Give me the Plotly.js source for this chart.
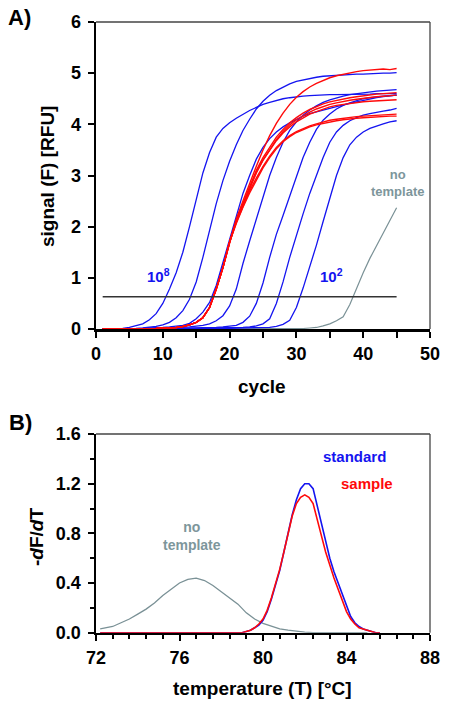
<!DOCTYPE html>
<html>
<head>
<meta charset="utf-8">
<script src="https://cdn.plot.ly/plotly-3.0.1.min.js"></script>
<style>html,body{margin:0;padding:0;background:#fff;}#chart{width:452px;height:704px;}</style>
</head>
<body>
<div id="chart"></div>
<script>
// ---------- Panel A: amplification curves ----------
const cycles = [1,2,3,4,5,6,7,8,9,10,11,12,13,14,15,16,17,18,19,20,21,22,23,24,25,26,27,28,29,30,31,32,33,34,35,36,37,38,39,40,41,42,43,44,45];

// standards (blue), 10^8 ... 10^2
const std1e8 = [0,0,0.01,0.01,0.03,0.06,0.10,0.18,0.30,0.50,0.78,1.10,1.50,2.00,2.55,3.05,3.45,3.75,3.92,4.03,4.12,4.20,4.27,4.33,4.39,4.43,4.47,4.50,4.52,4.54,4.55,4.56,4.57,4.57,4.58,4.58,4.58,4.59,4.59,4.59,4.59,4.60,4.60,4.60,4.60];
const std1e7 = [0,0,0,0.01,0.01,0.01,0.02,0.03,0.05,0.08,0.13,0.22,0.36,0.58,0.92,1.40,1.95,2.45,2.90,3.28,3.60,3.88,4.10,4.30,4.45,4.57,4.66,4.73,4.79,4.84,4.87,4.90,4.92,4.94,4.95,4.96,4.97,4.97,4.98,4.98,4.99,4.99,5.00,5.00,5.01];
const std1e6 = [0,0,0,0,0.01,0.01,0.01,0.02,0.02,0.03,0.04,0.05,0.07,0.11,0.20,0.33,0.52,0.85,1.30,1.80,2.25,2.65,3.00,3.32,3.55,3.72,3.85,3.95,4.03,4.10,4.16,4.21,4.25,4.28,4.31,4.35,4.38,4.41,4.44,4.47,4.50,4.52,4.54,4.56,4.57];
const std1e5 = [0,0,0,0,0,0,0.01,0.01,0.01,0.01,0.02,0.02,0.03,0.04,0.05,0.07,0.10,0.16,0.26,0.45,0.78,1.28,1.72,2.15,2.60,3.00,3.35,3.65,3.88,4.05,4.18,4.28,4.36,4.43,4.48,4.52,4.55,4.58,4.60,4.62,4.63,4.65,4.66,4.67,4.68];
const std1e4 = [0,0,0,0,0,0,0,0,0.01,0.01,0.01,0.01,0.01,0.02,0.02,0.02,0.03,0.03,0.04,0.05,0.07,0.13,0.25,0.50,0.90,1.40,1.85,2.22,2.60,3.00,3.35,3.65,3.90,4.08,4.20,4.30,4.37,4.42,4.46,4.50,4.52,4.54,4.55,4.56,4.57];
const std1e3 = [0,0,0,0,0,0,0,0,0,0,0.01,0.01,0.01,0.01,0.01,0.01,0.02,0.02,0.02,0.02,0.03,0.03,0.04,0.06,0.10,0.20,0.50,0.92,1.40,1.85,2.25,2.65,3.00,3.35,3.65,3.85,3.98,4.07,4.13,4.18,4.21,4.24,4.26,4.28,4.31];
const std1e2 = [0,0,0,0,0,0,0,0,0,0,0,0,0,0.01,0.01,0.01,0.01,0.01,0.01,0.01,0.02,0.02,0.02,0.02,0.02,0.03,0.05,0.09,0.17,0.42,0.80,1.20,1.64,2.10,2.55,3.00,3.35,3.60,3.75,3.85,3.92,3.97,4.01,4.05,4.07];

// samples (red)
const sampleA = [0,0,0,0,0,0.01,0.01,0.01,0.01,0.02,0.02,0.03,0.05,0.08,0.13,0.22,0.42,0.78,1.20,1.70,2.15,2.50,2.85,3.18,3.50,3.78,4.02,4.22,4.39,4.53,4.64,4.73,4.80,4.86,4.91,4.95,4.98,5.01,5.03,5.05,5.06,5.08,5.08,5.07,5.09];
const sampleB = [0,0,0,0,0,0.01,0.01,0.01,0.01,0.02,0.02,0.03,0.05,0.08,0.13,0.22,0.42,0.78,1.20,1.70,2.12,2.45,2.80,3.10,3.35,3.55,3.75,3.90,4.03,4.13,4.22,4.29,4.35,4.40,4.44,4.47,4.50,4.52,4.54,4.56,4.58,4.59,4.60,4.61,4.62];
const sampleC = [0,0,0,0,0,0.01,0.01,0.01,0.01,0.02,0.02,0.03,0.05,0.08,0.13,0.22,0.42,0.78,1.20,1.70,2.10,2.44,2.77,3.06,3.30,3.50,3.70,3.86,3.99,4.09,4.17,4.24,4.30,4.35,4.39,4.42,4.45,4.47,4.49,4.51,4.53,4.54,4.55,4.56,4.57];
const sampleD = [0,0,0,0,0,0.01,0.01,0.01,0.01,0.02,0.02,0.03,0.05,0.08,0.13,0.22,0.42,0.78,1.20,1.70,2.10,2.42,2.75,3.05,3.30,3.50,3.68,3.83,3.95,4.05,4.13,4.20,4.25,4.30,4.34,4.37,4.39,4.41,4.43,4.44,4.45,4.46,4.47,4.47,4.48];
const sampleE = [0,0,0,0,0,0.01,0.01,0.01,0.01,0.02,0.02,0.03,0.05,0.08,0.13,0.22,0.42,0.78,1.20,1.70,2.08,2.40,2.70,2.95,3.18,3.38,3.55,3.68,3.78,3.86,3.92,3.97,4.01,4.05,4.08,4.10,4.12,4.14,4.15,4.16,4.17,4.18,4.19,4.19,4.20];
const sampleF = [0,0,0,0,0,0.01,0.01,0.01,0.01,0.02,0.02,0.03,0.05,0.08,0.13,0.22,0.42,0.78,1.20,1.70,2.06,2.38,2.66,2.92,3.15,3.35,3.52,3.66,3.76,3.84,3.90,3.95,3.99,4.02,4.05,4.07,4.09,4.11,4.12,4.13,4.14,4.15,4.15,4.16,4.16];

// no template (grey)
const noTemplateA = [0,0,0,0,0,0,0,0,0,0,0,0,0,0,0,0,0,0,0,0,0,0,0,0,0,0,0,0.01,0.01,0.01,0.01,0.02,0.03,0.06,0.10,0.16,0.24,0.48,0.80,1.10,1.38,1.63,1.90,2.15,2.37];

// threshold
const thresholdCycles = [1, 45];
const thresholdValues = [0.63, 0.63];

// ---------- Panel B: melting curves ----------
const meltT = [72.2,73,74,75,76,77,78,78.6,79.0,79.2,79.4,79.6,79.8,80.0,80.2,80.4,80.6,80.8,81.0,81.2,81.4,81.6,81.8,82.0,82.2,82.4,82.6,82.8,83.0,83.2,83.4,83.6,83.8,84.0,84.2,84.4,84.6,84.8,85.0,85.2,85.4,85.6];
const meltStandard = [0,0,0,0,0,0,0,0,0,0.01,0.02,0.04,0.06,0.10,0.17,0.27,0.38,0.50,0.65,0.80,0.95,1.07,1.16,1.20,1.20,1.16,1.02,0.86,0.72,0.60,0.49,0.40,0.31,0.21,0.13,0.08,0.05,0.03,0.02,0.01,0,0];
const meltSample   = [0,0,0,0,0,0,0,0,0,0.01,0.02,0.04,0.07,0.11,0.18,0.28,0.39,0.51,0.65,0.80,0.94,1.04,1.09,1.11,1.09,1.04,0.92,0.78,0.65,0.54,0.44,0.35,0.26,0.17,0.11,0.07,0.04,0.03,0.02,0.01,0,0];
const meltNoTemplateT = [72.2,72.8,73.2,73.6,74.0,74.4,74.8,75.2,75.6,76.0,76.4,76.8,77.2,77.6,78.0,78.4,78.8,79.2,79.6,80.0,80.4,80.8,81.2,81.6,82.0,82.4,83.0,84.0,85.0];
const meltNoTemplate  = [0.03,0.05,0.08,0.11,0.15,0.19,0.24,0.30,0.35,0.40,0.43,0.44,0.42,0.38,0.33,0.28,0.23,0.16,0.11,0.075,0.05,0.03,0.02,0.01,0.005,0,0,0,0];

// ---------- styling ----------
const BLUE = '#1414f0', RED = '#ff0a0a', GREY = '#7a9196', GREYTXT = '#7d969b';
const FONT = 'Liberation Sans, Arial, sans-serif';

const traces = [];
traces.push({x: cycles, y: noTemplateA, type: 'scatter', mode: 'lines', line: {color: GREY, width: 1.2}, xaxis: 'x', yaxis: 'y'});
[std1e8, std1e7, std1e6, std1e5, std1e4, std1e3, std1e2].forEach(s => traces.push({
  x: cycles, y: s, type: 'scatter', mode: 'lines', line: {color: BLUE, width: 1.3}, xaxis: 'x', yaxis: 'y'
}));
[sampleA, sampleB, sampleC, sampleD, sampleE, sampleF].forEach(s => traces.push({
  x: cycles, y: s, type: 'scatter', mode: 'lines', line: {color: RED, width: 1.4}, xaxis: 'x', yaxis: 'y'
}));
traces.push({x: thresholdCycles, y: thresholdValues, type: 'scatter', mode: 'lines', line: {color: '#333', width: 1.5}, xaxis: 'x', yaxis: 'y'});

traces.push({x: meltNoTemplateT, y: meltNoTemplate, type: 'scatter', mode: 'lines', line: {color: GREY, width: 1.3}, xaxis: 'x2', yaxis: 'y2'});
traces.push({x: meltT, y: meltStandard, type: 'scatter', mode: 'lines', line: {color: BLUE, width: 1.6}, xaxis: 'x2', yaxis: 'y2'});
traces.push({x: meltT, y: meltSample, type: 'scatter', mode: 'lines', line: {color: RED, width: 1.6}, xaxis: 'x2', yaxis: 'y2'});

const W = 452, H = 704;
const px = v => v / W, py = v => 1 - v / H;
const tickFont = {family: FONT, size: 18, color: '#000', weight: 'bold'};

const baseAxis = {
  showgrid: false, zeroline: false, showline: true, linecolor: '#000', linewidth: 2.5,
  ticks: 'outside', ticklen: 6, tickwidth: 2, tickcolor: '#000', tickfont: tickFont, fixedrange: true
};

function note(x, y, text, size, color, extra) {
  return Object.assign({xref: 'paper', yref: 'paper', x: px(x), y: py(y), text: text, showarrow: false,
    xanchor: 'center', yanchor: 'middle', font: {family: FONT, size: size, color: color}}, extra || {});
}
function dnote(xr, yr, x, y, text, size, color) {
  return {xref: xr, yref: yr, x: x, y: y, text: text, showarrow: false, xanchor: 'center', yanchor: 'middle',
    font: {family: FONT, size: size, color: color}};
}

const layout = {
  width: W, height: H, margin: {l: 0, r: 0, t: 0, b: 0},
  paper_bgcolor: '#fff', plot_bgcolor: '#fff', showlegend: false,
  xaxis: Object.assign({}, baseAxis, {domain: [px(96), px(430)], range: [0, 50], anchor: 'y', tickvals: [0,10,20,30,40,50], ticklabelstandoff: 1,
    minor: {tickvals: [5,15,25,35,45], ticks: 'outside', ticklen: 6, tickwidth: 2, tickcolor: '#000'}}),
  yaxis: Object.assign({}, baseAxis, {domain: [py(329), py(22)], range: [0, 6], anchor: 'x', tickvals: [0,1,2,3,4,5,6], ticklabelstandoff: 3}),
  xaxis2: Object.assign({}, baseAxis, {domain: [px(96), px(430)], range: [72, 88], anchor: 'y2', tickvals: [72,76,80,84,88], ticklabelstandoff: 1,
    minor: {tick0: 72, dtick: 0.8, ticks: 'outside', ticklen: 4, tickwidth: 2, tickcolor: '#000'}}),
  yaxis2: Object.assign({}, baseAxis, {domain: [py(632.7), py(434)], range: [0, 1.6], anchor: 'x2', tickvals: [0,0.4,0.8,1.2,1.6], tickformat: '.1f', ticklabelstandoff: 3,
    minor: {tickvals: [0.2,0.6,1.0,1.4], ticks: 'outside', ticklen: 4, tickwidth: 2, tickcolor: '#000'}}),
  shapes: [
    {type: 'line', xref: 'x domain', yref: 'y domain', x0: 0, x1: 1, y0: 1, y1: 1, line: {color: '#444', width: 1.3}},
    {type: 'line', xref: 'x domain', yref: 'y domain', x0: 1, x1: 1, y0: 0, y1: 1, line: {color: '#444', width: 1.3}},
    {type: 'line', xref: 'x2 domain', yref: 'y2 domain', x0: 0, x1: 1, y0: 1, y1: 1, line: {color: '#444', width: 1.3}},
    {type: 'line', xref: 'x2 domain', yref: 'y2 domain', x0: 1, x1: 1, y0: 0, y1: 1, line: {color: '#444', width: 1.3}}
  ],
  annotations: [
    note(19, 17, '<b>A)</b>', 22, '#000'),
    note(47, 177, '<b>signal (F) [RFU]</b>', 19, '#000', {textangle: -90}),
    note(262, 386, '<b>cycle</b>', 19, '#000'),
    dnote('x', 'y', 9.3, 1.05, '<b>10<sup>8</sup></b>', 15, BLUE),
    dnote('x', 'y', 35.2, 1.05, '<b>10<sup>2</sup></b>', 15, BLUE),
    dnote('x', 'y', 45.1, 2.86, '<b>no<br>template</b>', 13, GREYTXT),
    note(20, 422, '<b>B)</b>', 22, '#000'),
    note(36, 537, '<b>-<i>d</i>F/<i>d</i>T</b>', 19, '#000', {textangle: -90}),
    note(262, 688, '<b>temperature (T) [°C]</b>', 19, '#000'),
    dnote('x2', 'y2', 76.6, 0.78, '<b>no<br>template</b>', 14, GREYTXT),
    dnote('x2', 'y2', 84.4, 1.42, '<b>standard</b>', 15, BLUE),
    dnote('x2', 'y2', 85.0, 1.20, '<b>sample</b>', 15, RED)
  ]
};

Plotly.newPlot('chart', traces, layout, {staticPlot: true, displayModeBar: false});
</script>
</body>
</html>
